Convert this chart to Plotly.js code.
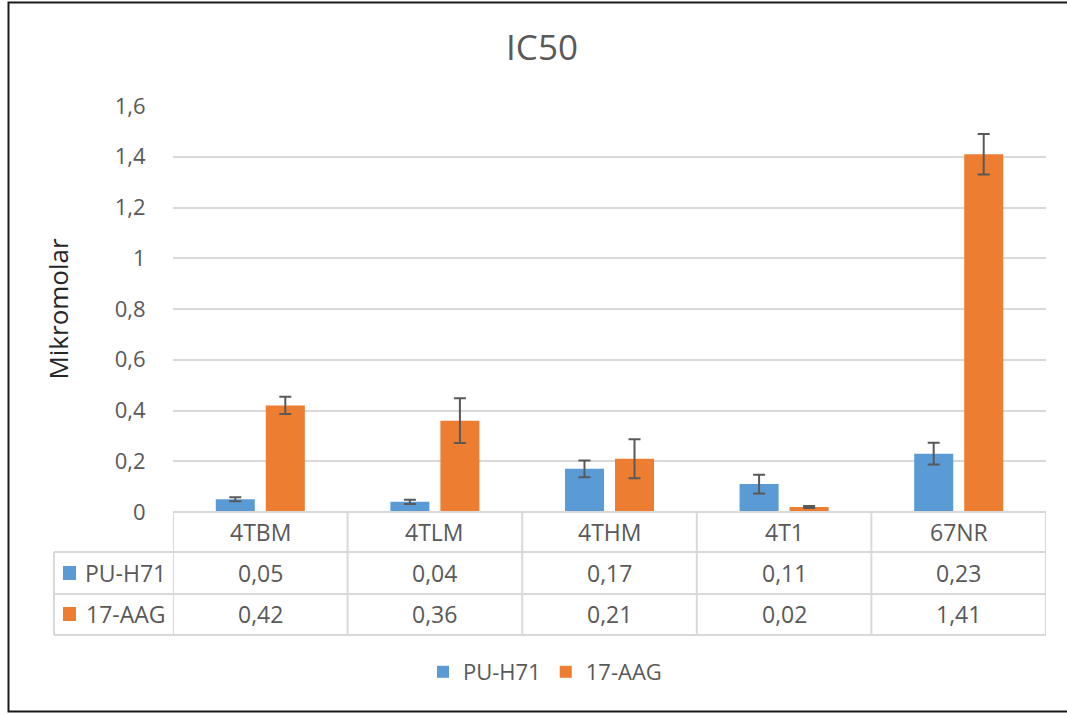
<!DOCTYPE html>
<html>
<head>
<meta charset="utf-8">
<script src="https://cdn.plot.ly/plotly-3.0.1.min.js"></script>
<style>html,body{margin:0;padding:0;background:#fff;}#chart{width:1067px;height:715px;}</style>
</head>
<body>
<div id="chart"></div>
<script>
const categories = ['4TBM', '4TLM', '4THM', '4T1', '67NR'];
const seriesNames = ['PU-H71', '17-AAG'];
const puH71 = [0.05, 0.04, 0.17, 0.11, 0.23];
const puH71Err = [0.008, 0.008, 0.033, 0.037, 0.043];
const aag17 = [0.42, 0.36, 0.21, 0.02, 1.41];
const aag17Err = [0.034, 0.088, 0.077, 0.004, 0.08];
const yTicks = [0, 0.2, 0.4, 0.6, 0.8, 1, 1.2, 1.4, 1.6];

const colors = ['#5B9BD5', '#ED7D31'];
const txtColor = '#595959';
const gridColor = '#d9d9d9';
const FONT = '"Open Sans", Lato, sans-serif';

// geometry (px)
const W = 1067, H = 715, mL = 173, mR = 21, mT = 106, mB = 203;
const plotH = H - mT - mB, plotW = W - mL - mR;
const py = Y => (H - mB - Y) / plotH;      // pixel y -> paper y
const px = X => (X - mL) / plotW;          // pixel x -> paper x

const fmt = v => v.toFixed(2).replace('.', ',');

const errStyle = {type: 'data', visible: true, color: '#595959', thickness: 2, width: 6};
const traces = [
  {type: 'bar', name: seriesNames[0], x: categories, y: puH71, marker: {color: colors[0]},
   error_y: Object.assign({array: puH71Err}, errStyle), hoverinfo: 'y'},
  {type: 'bar', name: seriesNames[1], x: categories, y: aag17, marker: {color: colors[1]},
   error_y: Object.assign({array: aag17Err}, errStyle), hoverinfo: 'y'}
];

// data table below the plot
const rowBot = 635;
const shapes = [];
const lineStyle = {color: gridColor, width: 2};
shapes.push({type: 'line', xref: 'paper', yref: 'paper', x0: 0, x1: 1, y0: py(512), y1: py(512), line: lineStyle});
[552, 594, 635].forEach(Y => shapes.push({type: 'line', xref: 'paper', yref: 'paper', x0: px(54), x1: 1, y0: py(Y), y1: py(Y), line: lineStyle}));
for (let i = 0; i <= categories.length; i++) {
  shapes.push({type: 'line', xref: 'x', yref: 'paper', x0: i - 0.5, x1: i - 0.5, y0: py(512), y1: py(rowBot), line: lineStyle});
}
shapes.push({type: 'line', xref: 'paper', yref: 'paper', x0: px(54), x1: px(54), y0: py(552), y1: py(rowBot), line: lineStyle});
// outer frame
shapes.push({type: 'rect', xref: 'paper', yref: 'paper', x0: px(8.5), x1: px(1075), y0: py(711.5), y1: py(2.5), line: {color: '#1a1a1a', width: 2}});

const annotations = [];
const cellFont = {family: FONT, size: 23, color: txtColor};
categories.forEach((c, i) => {
  annotations.push({xref: 'x', yref: 'paper', x: i, y: py(532), text: c, showarrow: false, font: cellFont, xanchor: 'center', yanchor: 'middle'});
  annotations.push({xref: 'x', yref: 'paper', x: i, y: py(573), text: fmt(puH71[i]), showarrow: false, font: cellFont, xanchor: 'center', yanchor: 'middle'});
  annotations.push({xref: 'x', yref: 'paper', x: i, y: py(614), text: fmt(aag17[i]), showarrow: false, font: cellFont, xanchor: 'center', yanchor: 'middle'});
});
[[573, 0], [614, 1]].forEach(([Y, k]) => {
  shapes.push({type: 'rect', xref: 'paper', yref: 'paper', x0: px(63), x1: px(76), y0: py(Y + 7), y1: py(Y - 7), fillcolor: colors[k], line: {width: 0}});
  annotations.push({xref: 'paper', yref: 'paper', x: px(168), y: py(Y), text: seriesNames[k], showarrow: false, font: cellFont, xanchor: 'right', yanchor: 'middle'});
});

const layout = {
  width: W, height: H,
  margin: {l: mL, r: mR, t: mT, b: mB, pad: 0},
  paper_bgcolor: '#fff', plot_bgcolor: '#fff',
  separators: ',.',
  title: {text: 'IC50', font: {family: FONT, size: 35, color: txtColor}, x: 542 / W, xref: 'container', xanchor: 'center', y: 1 - 48 / H, yanchor: 'middle'},
  barmode: 'group', bargap: 0.427, bargroupgap: 0.22,
  showlegend: true,
  legend: {orientation: 'h', x: px(545), xanchor: 'center', y: py(672), yanchor: 'middle',
           font: {family: FONT, size: 22, color: txtColor}, itemwidth: 30, traceorder: 'normal'},
  xaxis: {type: 'category', showticklabels: false, showgrid: false, zeroline: false, showline: false, ticks: '', range: [-0.5, 4.5], fixedrange: true},
  yaxis: {range: [0, 1.6], tickmode: 'array', tickvals: yTicks,
          ticktext: yTicks.map(v => (v === 0 || v === 1) ? String(v) : v.toFixed(1).replace('.', ',')),
          showgrid: true, gridcolor: gridColor, gridwidth: 2, zeroline: false, showline: false,
          ticks: 'outside', ticklen: 22, tickcolor: 'rgba(0,0,0,0)',
          tickfont: {family: FONT, size: 22, color: txtColor},
          title: {text: 'Mikromolar', font: {family: FONT, size: 26, color: '#262626'}, standoff: 38}},
  shapes: shapes,
  annotations: annotations,
  font: {family: FONT}
};

Plotly.newPlot('chart', traces, layout, {displayModeBar: false, staticPlot: true});
</script>
</body>
</html>
